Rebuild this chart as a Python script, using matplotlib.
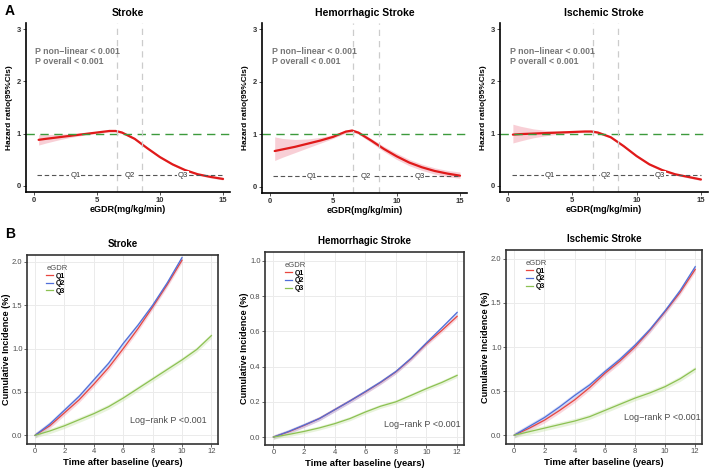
import matplotlib
matplotlib.use("Agg")
import matplotlib.pyplot as plt
import numpy as np

plt.rcParams['font.family'] = ['Liberation Sans', 'DejaVu Sans']

# ---------------- Panel A data (restricted cubic spline HR) ----------------
titles = ["Stroke", "Hemorrhagic Stroke", "Ischemic Stroke"]
rcs_x = [0.4, 1, 2, 3, 4, 5, 6, 6.5, 7, 8, 9, 10, 11, 12, 13, 14, 15]
stroke_hr = [0.88, 0.90, 0.93, 0.96, 0.99, 1.02, 1.05, 1.05, 1.02, 0.90, 0.72, 0.55, 0.41, 0.30, 0.22, 0.17, 0.13]
stroke_lo = [0.78, 0.82, 0.88, 0.93, 0.97, 1.00, 1.03, 1.03, 1.00, 0.88, 0.70, 0.53, 0.39, 0.28, 0.20, 0.15, 0.11]
stroke_hi = [0.98, 0.98, 0.99, 1.00, 1.01, 1.04, 1.07, 1.07, 1.04, 0.92, 0.74, 0.57, 0.43, 0.32, 0.24, 0.19, 0.16]
hem_hr = [0.68, 0.71, 0.76, 0.82, 0.88, 0.95, 1.05, 1.07, 1.03, 0.88, 0.72, 0.58, 0.46, 0.37, 0.30, 0.25, 0.21]
hem_lo = [0.50, 0.56, 0.65, 0.74, 0.83, 0.92, 1.02, 1.04, 1.00, 0.84, 0.67, 0.52, 0.40, 0.31, 0.24, 0.19, 0.16]
hem_hi = [0.95, 0.92, 0.90, 0.91, 0.94, 0.99, 1.08, 1.10, 1.06, 0.92, 0.77, 0.64, 0.52, 0.43, 0.36, 0.31, 0.28]
isc_hr = [0.98, 0.99, 1.00, 1.01, 1.02, 1.03, 1.04, 1.04, 1.02, 0.93, 0.76, 0.57, 0.41, 0.30, 0.22, 0.17, 0.12]
isc_lo = [0.82, 0.86, 0.92, 0.96, 0.99, 1.01, 1.02, 1.02, 1.00, 0.91, 0.74, 0.55, 0.39, 0.28, 0.20, 0.15, 0.10]
isc_hi = [1.18, 1.14, 1.09, 1.06, 1.05, 1.05, 1.06, 1.06, 1.04, 0.95, 0.78, 0.59, 0.43, 0.32, 0.24, 0.19, 0.15]
rcs_hr = [stroke_hr, hem_hr, isc_hr]
rcs_lo = [stroke_lo, hem_lo, isc_lo]
rcs_hi = [stroke_hi, hem_hi, isc_hi]
quartile_cuts = [6.6, 8.6]
quartile_labels = ["Q1", "Q2", "Q3"]
quartile_label_x = [3.3, 7.6, 11.8]
ref_line_y = 0.2
p_texts = ["P non\u2212linear < 0.001", "P overall < 0.001"]

# ---------------- Panel B data (cumulative incidence) ----------------
km_t = [0, 1, 2, 3, 4, 5, 6, 7, 8, 9, 10, 11, 12]
stroke_q1 = [0.0, 0.11, 0.26, 0.41, 0.59, 0.78, 1.00, 1.23, 1.48, 1.74, 2.02, None, None]
stroke_q2 = [0.0, 0.13, 0.29, 0.45, 0.64, 0.83, 1.06, 1.27, 1.50, 1.76, 2.05, None, None]
stroke_q3 = [0.0, 0.05, 0.11, 0.18, 0.25, 0.33, 0.43, 0.54, 0.65, 0.76, 0.87, 0.99, 1.15]
hem_q1 = [0.0, 0.030, 0.066, 0.105, 0.155, 0.205, 0.256, 0.310, 0.370, 0.445, 0.530, 0.605, 0.685]
hem_q2 = [0.0, 0.032, 0.068, 0.105, 0.155, 0.205, 0.258, 0.312, 0.372, 0.448, 0.535, 0.620, 0.707]
hem_q3 = [0.0, 0.015, 0.032, 0.052, 0.076, 0.105, 0.142, 0.175, 0.200, 0.237, 0.275, 0.310, 0.350]
isc_q1 = [0.0, 0.08, 0.17, 0.28, 0.40, 0.54, 0.70, 0.84, 1.00, 1.19, 1.40, 1.62, 1.88]
isc_q2 = [0.0, 0.10, 0.20, 0.32, 0.45, 0.57, 0.72, 0.86, 1.02, 1.20, 1.41, 1.64, 1.91]
isc_q3 = [0.0, 0.04, 0.08, 0.12, 0.16, 0.21, 0.28, 0.35, 0.42, 0.48, 0.55, 0.64, 0.75]
km_series = [[stroke_q1, stroke_q2, stroke_q3],
             [hem_q1, hem_q2, hem_q3],
             [isc_q1, isc_q2, isc_q3]]
km_groups = ["Q1", "Q2", "Q3"]
km_colors = ["#E8473F", "#4F6FD8", "#8CC152"]
km_band_colors = ["#F4A6B4", "#A9B8F0", "#CDE6B0"]
km_ylims = [(-0.1, 2.08), (-0.045, 1.05), (-0.1, 2.1)]
km_yticks = [[0.0, 0.5, 1.0, 1.5, 2.0], [0.0, 0.2, 0.4, 0.6, 0.8, 1.0], [0.0, 0.5, 1.0, 1.5, 2.0]]
logrank_pos = [(9.1, 0.17), (9.7, 0.07), (9.8, 0.2)]
km_band_width = [0.03, 0.012, 0.03]

W, H = 709, 470
fig = plt.figure(figsize=(W / 100, H / 100), dpi=100)

def ax_px(l, r, t, b):
    return fig.add_axes([l / W, 1 - b / H, (r - l) / W, (b - t) / H])

top_boxes = [(26, 230, 23, 192), (262, 467, 23, 193), (500, 708, 23, 192)]
bot_boxes = [(27, 218, 255, 444), (265, 464, 252, 445), (506, 702, 250, 444)]

for i in range(3):
    ax = ax_px(*top_boxes[i])
    x = np.array(rcs_x)
    ax.fill_between(x, rcs_lo[i], rcs_hi[i], color="#F7C4CC", alpha=0.8, lw=0)
    ax.plot(x, rcs_hr[i], color="#E01A1A", lw=1.6, solid_capstyle="round")
    ax.axhline(1, color="#3C9A3C", lw=1.0, ls=(0, (6, 4)))
    for c in quartile_cuts:
        ax.axvline(c, color="#CCCCCC", lw=0.9, ls=(0, (5, 4)))
    ax.plot([0.3, 15], [ref_line_y, ref_line_y], color="#555555", lw=0.8, ls=(0, (4, 2.5)))
    for lab, lx in zip(quartile_labels, quartile_label_x):
        ax.text(lx, ref_line_y, lab, fontsize=5.5, ha="center", va="center", color="#333333",
                bbox=dict(facecolor="white", edgecolor="none", pad=0.6))
    ax.text(0.15, 2.58, p_texts[0], fontsize=6.3, color="#777777", fontweight="bold", va="center")
    ax.text(0.15, 2.39, p_texts[1], fontsize=6.3, color="#777777", fontweight="bold", va="center")
    ax.set_xlim(-0.6, 15.55)
    ax.set_ylim(-0.12, 3.12)
    ax.set_xticks([0, 5, 10, 15])
    ax.set_yticks([0, 1, 2, 3])
    ax.spines["top"].set_visible(False)
    ax.spines["right"].set_visible(False)
    for s in ("left", "bottom"):
        ax.spines[s].set_linewidth(1.2)
        ax.spines[s].set_color("black")
    ax.tick_params(labelsize=5.5, length=2, width=0.6, colors="#333333", pad=1.5)
    for lbl in ax.get_xticklabels() + ax.get_yticklabels():
        lbl.set_fontweight("bold")
    ax.set_xlabel("eGDR(mg/kg/min)", fontsize=6.5, fontweight="bold", labelpad=1)
    ax.set_ylabel("Hazard ratio(95%CIs)", fontsize=6, fontweight="bold", labelpad=3)
    ax.set_title(titles[i], fontsize=7.5, fontweight="bold", pad=5)

for i in range(3):
    ax = ax_px(*bot_boxes[i])
    t = np.array(km_t, dtype=float)
    lines = []
    for g in range(3):
        y = np.array([np.nan if v is None else v for v in km_series[i][g]], dtype=float)
        m = ~np.isnan(y)
        ax.fill_between(t[m], y[m] - km_band_width[i], y[m] + km_band_width[i],
                        color=km_band_colors[g], alpha=0.45, lw=0)
    for g in range(3):
        y = np.array([np.nan if v is None else v for v in km_series[i][g]], dtype=float)
        m = ~np.isnan(y)
        ln, = ax.plot(t[m], y[m], color=km_colors[g], lw=0.9)
        lines.append(ln)
    ax.set_xlim(-0.55, 12.45)
    ax.set_ylim(*km_ylims[i])
    ax.set_xticks([0, 2, 4, 6, 8, 10, 12])
    ax.set_yticks(km_yticks[i])
    ax.set_yticklabels(["{:.1f}".format(v) for v in km_yticks[i]])
    ax.grid(True, color="#EBEBEB", lw=0.7)
    ax.set_axisbelow(True)
    for s in ax.spines.values():
        s.set_linewidth(1.2)
        s.set_color("#333333")
    ax.tick_params(labelsize=5.5, length=2, width=0.6, colors="#4D4D4D", pad=1.2)
    ax.set_xlabel("Time after baseline (years)", fontsize=6.8, fontweight="bold", labelpad=2)
    ax.set_ylabel("Cumulative Incidence (%)", fontsize=6.6, fontweight="bold", labelpad=1)
    ax.set_title(titles[i], fontsize=7, fontweight="bold", pad=6)
    lx, ly = logrank_pos[i]
    ax.text(lx, ly, "Log\u2212rank P <0.001", fontsize=6.5, color="#4D4D4D", ha="center", va="center")
    leg = ax.legend(lines, km_groups, title="eGDR", loc="upper left", bbox_to_anchor=(0.08, 0.97),
                    frameon=False, prop={"size": 5, "weight": "bold"}, title_fontsize=5.5,
                    handlelength=1.0, handletextpad=0.4, labelspacing=0.1, borderaxespad=0.2,
                    alignment="left")
    leg.get_title().set_color("#4D4D4D")

fig.text(5 / W, 1 - 11 / H, "A", fontsize=10, fontweight="bold", va="center")
fig.text(5 / W, 1 - 234 / H, "B", fontsize=10, fontweight="bold", va="center")

fig.savefig("out.png", dpi=100)
